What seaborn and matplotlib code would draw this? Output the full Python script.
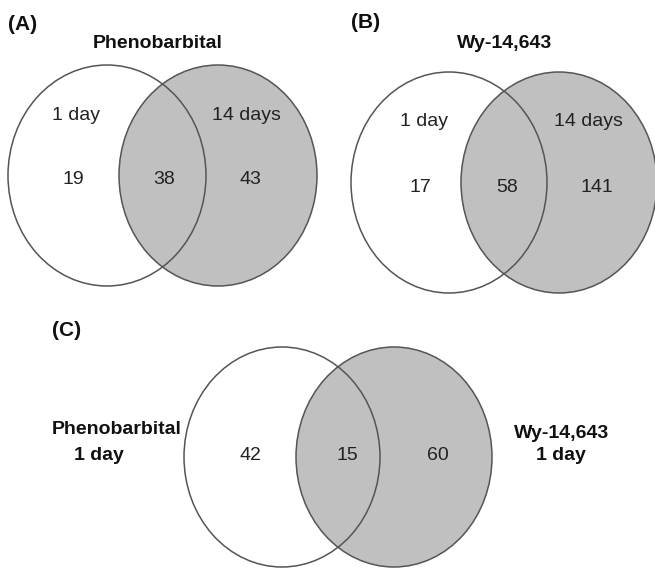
import matplotlib
matplotlib.use("Agg")
import matplotlib.pyplot as plt
from matplotlib.patches import Ellipse
import seaborn as sns

# Gene counts per Venn region: (only left, shared, only right)
panels = ["(A)", "(B)", "(C)"]
titles = ["Phenobarbital", "Wy-14,643", ""]
left_counts = [19, 17, 42]
shared_counts = [38, 58, 15]
right_counts = [43, 141, 60]
left_labels = ["1 day", "1 day", ""]
right_labels = ["14 days", "14 days", ""]
side_left_c = "Phenobarbital\n1 day"
side_right_c = "Wy-14,643\n1 day"

sns.set_theme(style="white")
plt.rcParams["font.family"] = ["Liberation Sans", "DejaVu Sans"]

W, H = 655, 568
fig = plt.figure(figsize=(W / 100, H / 100), dpi=100)
ax = fig.add_axes([0, 0, 1, 1])
ax.set_xlim(0, W)
ax.set_ylim(H, 0)
ax.set_aspect("equal")
ax.axis("off")

# layout of each diagram: left centre, right centre, width, height
layout = [
    dict(lc=(107, 175.5), rc=(218, 175.5), w=198, h=221,
         tag=(23, 25), title=(158, 43), lab_y=115, num_y=180,
         lab_x=(76, 246), num_x=(73, 164, 250)),
    dict(lc=(449, 182.5), rc=(559, 182.5), w=196, h=221,
         tag=(366, 22), title=(505, 43), lab_y=121, num_y=187,
         lab_x=(424, 588), num_x=(420, 507, 597)),
    dict(lc=(282, 457), rc=(394, 457), w=196, h=220,
         tag=(67, 330), title=None, lab_y=None, num_y=455,
         lab_x=None, num_x=(250, 347, 438)),
]

edge = "#555555"
fill = "#c0c0c0"
num_fs = 14
lab_fs = 14
bold_fs = 14

for i, L in enumerate(layout):
    # fills first, outlines on top so both rims stay visible
    ax.add_patch(Ellipse(L["lc"], L["w"], L["h"], facecolor="white",
                         edgecolor="none", zorder=1))
    ax.add_patch(Ellipse(L["rc"], L["w"], L["h"], facecolor=fill,
                         edgecolor="none", zorder=2))
    for c in (L["lc"], L["rc"]):
        ax.add_patch(Ellipse(c, L["w"], L["h"], facecolor="none",
                             edgecolor=edge, linewidth=1.1, zorder=3))

    ax.text(*L["tag"], panels[i], ha="center", va="center",
            fontsize=15, fontweight="bold", color="#111111", zorder=4)
    if L["title"] is not None:
        ax.text(*L["title"], titles[i], ha="center", va="center",
                fontsize=bold_fs, fontweight="bold", color="#111111", zorder=4)
    if L["lab_y"] is not None:
        ax.text(L["lab_x"][0], L["lab_y"], left_labels[i], ha="center",
                va="center", fontsize=lab_fs, color="#222222", zorder=4)
        ax.text(L["lab_x"][1], L["lab_y"], right_labels[i], ha="center",
                va="center", fontsize=lab_fs, color="#222222", zorder=4)
    vals = (left_counts[i], shared_counts[i], right_counts[i])
    for x, v in zip(L["num_x"], vals):
        ax.text(x, L["num_y"], str(v), ha="center", va="center",
                fontsize=num_fs, color="#222222", zorder=4)

# side labels of the comparison diagram
ax.text(117, 430, side_left_c.split("\n")[0], ha="center", va="center",
        fontsize=bold_fs, fontweight="bold", color="#111111")
ax.text(99, 455, side_left_c.split("\n")[1], ha="center", va="center",
        fontsize=bold_fs, fontweight="bold", color="#111111")
ax.text(562, 434, side_right_c.split("\n")[0], ha="center", va="center",
        fontsize=bold_fs, fontweight="bold", color="#111111")
ax.text(561, 455, side_right_c.split("\n")[1], ha="center", va="center",
        fontsize=bold_fs, fontweight="bold", color="#111111")

fig.savefig("out.png", dpi=100)
